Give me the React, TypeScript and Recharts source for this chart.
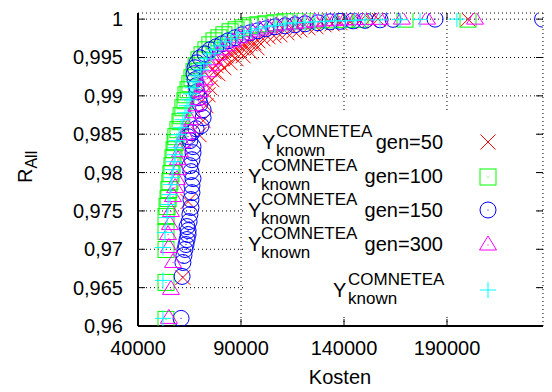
import React from 'react';
import { ScatterChart, Scatter, XAxis, YAxis, CartesianGrid, Legend } from 'recharts';

type Pt = [number, number];

// Axis ticks
const kostenTicks = [40000, 90000, 140000, 190000];
const rAllTicks = [0.96, 0.965, 0.97, 0.975, 0.98, 0.985, 0.99, 0.995, 1];

// [Kosten, R_All] per run
const gen50: Pt[] = [
  [61800, 0.96633], [64300, 0.97622], [69600, 0.98494], [71600, 0.98676], [73000, 0.98871],
  [74000, 0.99014], [74900, 0.99106], [75900, 0.9921], [76900, 0.99314], [77900, 0.99392],
  [79300, 0.99444], [80800, 0.99483], [82700, 0.99522], [84700, 0.99548], [86600, 0.99574],
  [88500, 0.996], [90500, 0.99626], [92400, 0.99652], [94400, 0.99678], [96300, 0.99691],
  [98200, 0.99717], [100700, 0.99743], [103100, 0.9977], [106000, 0.99783], [108900, 0.99796],
  [112300, 0.99822], [115700, 0.99848], [118600, 0.99861], [122500, 0.99887], [126400, 0.999],
  [130300, 0.99926], [134200, 0.99939], [138100, 0.99952], [142900, 0.99965], [147800, 0.99978],
  [152600, 0.99991], [156500, 1.0], [200200, 1.0],
  [78800, 0.99288], [81700, 0.99366], [84700, 0.99431], [87600, 0.99483], [91000, 0.99522],
  [94400, 0.99574], [97800, 0.99626],
];

const gen100: Pt[] = [
  [53600, 0.96086], [53600, 0.96568], [53600, 0.96997], [53600, 0.97231], [53600, 0.97426],
  [54100, 0.97557], [54600, 0.97661], [55000, 0.97778], [55500, 0.97882], [56000, 0.97986],
  [56500, 0.9809], [57000, 0.98194], [57500, 0.98298], [58000, 0.9839], [58400, 0.98468],
  [59400, 0.98559], [60400, 0.98663], [60900, 0.98741], [61800, 0.98845], [62800, 0.98936],
  [63300, 0.99014], [64300, 0.9908], [65200, 0.99158], [66200, 0.99236], [67200, 0.99314],
  [68200, 0.99392], [69600, 0.9947], [71100, 0.99535], [73000, 0.996], [74900, 0.99665],
  [76900, 0.99717], [79300, 0.99757], [81700, 0.99796], [84700, 0.99835], [87600, 0.99861],
  [91000, 0.99887], [94400, 0.99913], [98200, 0.99926], [102100, 0.99939], [106500, 0.99952],
  [111400, 0.99965], [116200, 0.99978], [121100, 0.99978], [127400, 0.99991], [133200, 0.99991],
  [140500, 0.99997], [147800, 0.99997], [169600, 1.0], [200200, 1.0],
];

const gen150: Pt[] = [
  [60900, 0.96099], [61400, 0.96646], [61800, 0.96828], [62300, 0.96919], [62800, 0.96997],
  [63300, 0.97062], [63800, 0.97127], [64300, 0.97192], [64300, 0.97244], [63800, 0.97296],
  [64800, 0.97361], [65200, 0.97453], [65700, 0.97544], [65700, 0.97648], [66200, 0.97739],
  [66200, 0.9783], [66700, 0.97921], [65700, 0.98012], [65200, 0.9809], [66200, 0.98168],
  [66700, 0.98259], [66700, 0.98338], [65200, 0.98416], [64300, 0.98468], [66200, 0.9852],
  [68200, 0.98572], [70600, 0.98611], [71600, 0.98715], [71600, 0.98819], [70100, 0.98897],
  [69600, 0.98975], [68600, 0.99053], [68200, 0.99132], [67700, 0.9921], [67200, 0.99288],
  [67700, 0.99366], [68600, 0.99431], [70100, 0.99496], [72500, 0.99548], [74900, 0.996],
  [77900, 0.99639], [80800, 0.99678], [83700, 0.99717], [87100, 0.99757], [90500, 0.99796],
  [94400, 0.99822], [98200, 0.99848], [102100, 0.99874], [106500, 0.999], [111400, 0.99913],
  [116200, 0.99926], [121100, 0.99939], [127400, 0.99952], [133200, 0.99965], [138100, 0.99971],
  [144400, 0.99978], [150200, 0.99984], [157500, 0.99991], [163800, 0.99997], [184200, 1.0],
  [236400, 1.0],
];

const gen300: Pt[] = [
  [55000, 0.96099], [56000, 0.96477], [57000, 0.96828], [55000, 0.97023], [54600, 0.97192],
  [55500, 0.97322], [56000, 0.97492], [57000, 0.97687], [58000, 0.97804], [58900, 0.97908],
  [59400, 0.98038], [59400, 0.98168], [60400, 0.98272], [61400, 0.9839], [62800, 0.98494],
  [64300, 0.98585], [65200, 0.98689], [66700, 0.9878], [68200, 0.98871], [69100, 0.98949],
  [70100, 0.99053], [71100, 0.99119], [72500, 0.9921], [74000, 0.99314], [75400, 0.99392],
  [76900, 0.9947], [78800, 0.99535], [80800, 0.996], [83200, 0.99652], [86100, 0.99704],
  [89000, 0.99757], [91900, 0.99796], [95300, 0.99835], [99200, 0.99861], [103100, 0.99887],
  [107000, 0.99913], [111400, 0.99926], [116200, 0.99939], [121100, 0.99952], [125900, 0.99965],
  [130800, 0.99978], [135600, 0.99984], [140500, 0.99991], [145300, 0.99993], [150200, 0.99996],
  [157500, 0.99997], [168100, 1.0], [180300, 1.0], [203600, 1.0],
];

const knownFront: Pt[] = [
  [52100, 0.96099], [52100, 0.96594], [52100, 0.97023], [53100, 0.97218], [54100, 0.97413],
  [54600, 0.97583], [55500, 0.97713], [56000, 0.97843], [56500, 0.97934], [57000, 0.98038],
  [57500, 0.98142], [58000, 0.98233], [58400, 0.98324], [58900, 0.98416], [59900, 0.98494],
  [60900, 0.98585], [61800, 0.98689], [62800, 0.9878], [63800, 0.98871], [64800, 0.98949],
  [65700, 0.99027], [66700, 0.99106], [67700, 0.99184], [69100, 0.99262], [70600, 0.9934],
  [72000, 0.99418], [73500, 0.99483], [75400, 0.99548], [77400, 0.996], [79800, 0.99652],
  [82200, 0.99704], [85100, 0.99743], [88100, 0.99783], [91500, 0.99822], [94900, 0.99848],
  [98200, 0.99874], [102100, 0.999], [106500, 0.99919], [111400, 0.99939], [116200, 0.99952],
  [121100, 0.99958], [125900, 0.99965], [130800, 0.99971], [135600, 0.99978], [140500, 0.99978],
  [145300, 0.99984], [150200, 0.99991], [157500, 0.99991], [167200, 0.99993], [176900, 0.99997],
  [194800, 1.0],
];

const toPoints = (pts: Pt[]) => pts.map(([k, r]) => ({ k, r }));

const FONT = '"Liberation Sans", Arial, Helvetica, sans-serif';

// plot frame (matches margins + axis sizes below)
const FRAME = { left: 138, top: 13, right: 543, bottom: 326 };
const TICK_LEN = 7;

type MarkProps = { cx?: number; cy?: number };

const Dot = ({ cx, cy, color }: { cx: number; cy: number; color: string }) => (
  <rect x={cx - 0.5} y={cy - 0.5} width={1} height={1} fill={color} />
);

const CrossMark = ({ cx = 0, cy = 0 }: MarkProps) => (
  <g stroke="#ff0000" strokeWidth={1} fill="none">
    <line x1={cx - 7.5} y1={cy - 7.5} x2={cx + 7.5} y2={cy + 7.5} />
    <line x1={cx - 7.5} y1={cy + 7.5} x2={cx + 7.5} y2={cy - 7.5} />
  </g>
);

const SquareMark = ({ cx = 0, cy = 0 }: MarkProps) => (
  <g>
    <rect x={cx - 8} y={cy - 8} width={16} height={16} fill="none" stroke="#00ff00" strokeWidth={1} />
    <Dot cx={cx} cy={cy} color="#00ff00" />
  </g>
);

const CircleMark = ({ cx = 0, cy = 0 }: MarkProps) => (
  <g>
    <circle cx={cx} cy={cy} r={8} fill="none" stroke="#0000ff" strokeWidth={1} />
    <Dot cx={cx} cy={cy} color="#0000ff" />
  </g>
);

const TriangleMark = ({ cx = 0, cy = 0 }: MarkProps) => (
  <g>
    <polygon
      points={`${cx},${cy - 9} ${cx - 8.5},${cy + 5} ${cx + 8.5},${cy + 5}`}
      fill="none"
      stroke="#ff00ff"
      strokeWidth={1}
    />
    <Dot cx={cx} cy={cy} color="#ff00ff" />
  </g>
);

const PlusMark = ({ cx = 0, cy = 0 }: MarkProps) => (
  <g stroke="#00ffff" strokeWidth={1}>
    <line x1={cx - 8} y1={cy} x2={cx + 8} y2={cy} />
    <line x1={cx} y1={cy - 8} x2={cx} y2={cy + 8} />
  </g>
);

const YTick = (props: any) => {
  const { y, payload } = props;
  const label = String(payload.value).replace('.', ',');
  return (
    <g>
      <text x={123} y={y + 7} textAnchor="end" fontFamily={FONT} fontSize={20} fill="#000">
        {label}
      </text>
      <line x1={FRAME.left} x2={FRAME.left + TICK_LEN} y1={y} y2={y} stroke="#000" strokeWidth={1} />
      <line x1={FRAME.right - TICK_LEN} x2={FRAME.right} y1={y} y2={y} stroke="#000" strokeWidth={1} />
    </g>
  );
};

const XTick = (props: any) => {
  const { x, payload } = props;
  return (
    <g>
      <text x={x} y={355} textAnchor="middle" fontFamily={FONT} fontSize={20} fill="#000">
        {String(payload.value)}
      </text>
      <line x1={x} x2={x} y1={FRAME.bottom} y2={FRAME.bottom - TICK_LEN} stroke="#000" strokeWidth={1} />
      <line x1={x} x2={x} y1={FRAME.top} y2={FRAME.top + TICK_LEN} stroke="#000" strokeWidth={1} />
    </g>
  );
};

const KostenLabel = () => (
  <text x={340} y={384} textAnchor="middle" fontFamily={FONT} fontSize={20} fill="#000">
    Kosten
  </text>
);

const RAllLabel = () => (
  <text x={0} y={0} transform="translate(32,183) rotate(-90)" fontFamily={FONT} fontSize={20} fill="#000">
    <tspan>R</tspan>
    <tspan fontSize={16} dy={5}>All</tspan>
  </text>
);

// Key rows: symbol, generation label and text layout inside the key box
const keyRows = [
  { mark: CrossMark, gen: 'gen=50', base: 37, cy: 30, yX: 19, supX: 33 },
  { mark: SquareMark, gen: 'gen=100', base: 71, cy: 65, yX: 5, supX: 18 },
  { mark: CircleMark, gen: 'gen=150', base: 105, cy: 98, yX: 5, supX: 18 },
  { mark: TriangleMark, gen: 'gen=300', base: 139, cy: 133, yX: 5, supX: 18 },
  { mark: PlusMark, gen: '', base: 185, cy: 178, yX: 90, supX: 105 },
];

const KeyBox = () => (
  <svg width={292} height={202} style={{ display: 'block', background: '#fff' }}>
    {keyRows.map((row, i) => {
      const Mark = row.mark;
      return (
        <g key={i} fontFamily={FONT} fill="#000">
          <text x={row.yX} y={row.base} fontSize={20}>Y</text>
          <text x={row.supX} y={row.base - 12} fontSize={17}>COMNETEA</text>
          <text x={row.supX} y={row.base + 7} fontSize={17}>known</text>
          {row.gen && (
            <text x={200} y={row.base} fontSize={20} textAnchor="end">{row.gen}</text>
          )}
          <Mark cx={245} cy={row.cy} />
        </g>
      );
    })}
  </svg>
);

export default function App() {
  return (
    <div style={{ position: 'absolute', left: 0, top: 0, background: '#fff' }}>
      <ScatterChart width={552} height={392} margin={{ top: 13, right: 9, bottom: 0, left: 0 }}>
        <CartesianGrid stroke="#000" strokeWidth={1} strokeDasharray="1 3" />
        <XAxis
          type="number"
          dataKey="k"
          domain={[40000, 236600]}
          ticks={kostenTicks}
          interval={0}
          height={66}
          tick={<XTick />}
          tickLine={false}
          axisLine={{ stroke: '#000', strokeWidth: 2 }}
          label={<KostenLabel />}
          allowDataOverflow
        />
        <XAxis
          xAxisId="top"
          orientation="top"
          type="number"
          domain={[40000, 236600]}
          height={0}
          tick={false}
          tickLine={false}
          axisLine={{ stroke: '#000', strokeWidth: 2 }}
        />
        <YAxis
          type="number"
          dataKey="r"
          domain={[0.96, 1.0008]}
          ticks={rAllTicks}
          interval={0}
          width={138}
          tick={<YTick />}
          tickLine={false}
          axisLine={{ stroke: '#000', strokeWidth: 2 }}
          label={<RAllLabel />}
          allowDataOverflow
        />
        <YAxis
          yAxisId="right"
          orientation="right"
          type="number"
          domain={[0.96, 1.0008]}
          width={0}
          tick={false}
          tickLine={false}
          axisLine={{ stroke: '#000', strokeWidth: 2 }}
        />
        <Legend
          layout="horizontal"
          verticalAlign="middle"
          align="center"
          wrapperStyle={{ left: 243, top: 112, width: 292, height: 202, background: '#fff' }}
          content={() => <KeyBox />}
        />
        <Scatter data={toPoints(gen50)} shape={(p: any) => <CrossMark cx={p.cx} cy={p.cy} />} isAnimationActive={false} />
        <Scatter data={toPoints(gen100)} shape={(p: any) => <SquareMark cx={p.cx} cy={p.cy} />} isAnimationActive={false} />
        <Scatter data={toPoints(gen150)} shape={(p: any) => <CircleMark cx={p.cx} cy={p.cy} />} isAnimationActive={false} />
        <Scatter data={toPoints(gen300)} shape={(p: any) => <TriangleMark cx={p.cx} cy={p.cy} />} isAnimationActive={false} />
        <Scatter data={toPoints(knownFront)} shape={(p: any) => <PlusMark cx={p.cx} cy={p.cy} />} isAnimationActive={false} />
      </ScatterChart>
    </div>
  );
}
